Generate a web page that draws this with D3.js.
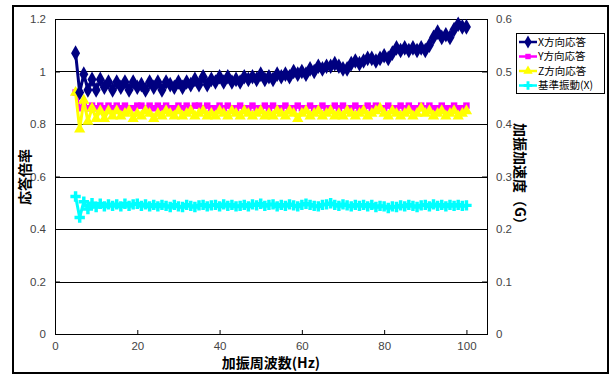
<!DOCTYPE html>
<html>
<head>
<meta charset="utf-8">
<script src="https://cdn.jsdelivr.net/npm/d3@7"></script>
<style>
  body { margin: 0; background: #fff; }
  svg text { font-family: "Liberation Sans", Arial, sans-serif; }
  .jp { font-family: "Noto Sans CJK JP", sans-serif; }
</style>
</head>
<body>
<div id="chart"></div>
<script>
// frequencies (Hz)
var freq = [5,6,7,8,9,10,11,12,13,14,15,16,17,18,19,20,21,22,23,24,25,26,27,28,29,30,
  31,32,33,34,35,36,37,38,39,40,41,42,43,44,45,46,47,48,49,50,51,52,53,54,55,56,57,58,59,60,
  61,62,63,64,65,66,67,68,69,70,71,72,73,74,75,76,77,78,79,80,81,82,83,84,85,86,87,88,89,90,
  91,92,93,94,95,96,97,98,99,100];

// response ratio, X direction (left axis)
var xResp = [1.07,0.92,0.99,0.93,0.97,0.93,0.97,0.94,0.96,0.93,
  0.96,0.94,0.96,0.93,0.96,0.94,0.95,0.93,0.96,0.94,
  0.96,0.93,0.96,0.95,0.94,0.96,0.94,0.96,0.95,0.97,
  0.95,0.98,0.95,0.97,0.96,0.98,0.96,0.98,0.96,0.97,
  0.96,0.98,0.97,0.98,0.97,0.99,0.97,0.98,0.97,0.99,
  0.98,0.99,0.98,1.00,0.99,1.00,0.99,1.01,1.00,1.02,
  1.01,1.02,1.02,1.03,1.02,1.01,1.01,1.03,1.04,1.03,
  1.04,1.05,1.05,1.04,1.05,1.06,1.05,1.07,1.09,1.08,
  1.09,1.08,1.09,1.08,1.09,1.08,1.10,1.13,1.15,1.13,
  1.14,1.13,1.16,1.18,1.17,1.17];

// response ratio, Y direction
var yResp = [0.92,0.86,0.87,0.86,0.87,0.86,0.87,0.86,0.87,0.86,
  0.87,0.86,0.87,0.86,0.86,0.87,0.87,0.86,0.87,0.86,
  0.87,0.86,0.87,0.86,0.86,0.87,0.86,0.87,0.86,0.87,
  0.87,0.86,0.87,0.86,0.86,0.87,0.86,0.87,0.86,0.86,
  0.87,0.86,0.86,0.87,0.86,0.86,0.87,0.86,0.87,0.86,
  0.86,0.87,0.86,0.86,0.87,0.86,0.86,0.87,0.86,0.86,
  0.87,0.86,0.86,0.87,0.86,0.87,0.86,0.86,0.87,0.86,
  0.86,0.87,0.86,0.87,0.86,0.86,0.87,0.86,0.86,0.87,
  0.86,0.87,0.86,0.86,0.87,0.86,0.87,0.86,0.86,0.87,
  0.86,0.86,0.87,0.86,0.86,0.87];

// response ratio, Z direction
var zResp = [0.92,0.78,0.89,0.81,0.86,0.82,0.85,0.82,0.85,0.83,
  0.85,0.83,0.84,0.85,0.82,0.84,0.83,0.85,0.84,0.82,
  0.84,0.83,0.85,0.84,0.83,0.85,0.83,0.84,0.85,0.83,
  0.84,0.85,0.83,0.84,0.83,0.85,0.84,0.83,0.85,0.84,
  0.83,0.85,0.84,0.83,0.84,0.85,0.83,0.84,0.83,0.85,
  0.84,0.83,0.85,0.84,0.82,0.84,0.85,0.83,0.84,0.85,
  0.83,0.84,0.85,0.83,0.84,0.83,0.85,0.84,0.83,0.84,
  0.85,0.83,0.84,0.85,0.86,0.84,0.83,0.85,0.84,0.83,
  0.84,0.85,0.83,0.84,0.86,0.84,0.85,0.83,0.84,0.85,
  0.83,0.84,0.85,0.83,0.84,0.85];

// reference excitation (G, right axis)
var baseAcc = [0.262,0.222,0.252,0.238,0.249,0.242,0.248,0.243,0.247,0.244,
  0.247,0.243,0.248,0.244,0.247,0.248,0.244,0.247,0.243,0.246,
  0.243,0.246,0.244,0.242,0.246,0.243,0.242,0.246,0.244,0.242,
  0.245,0.246,0.243,0.245,0.246,0.243,0.247,0.244,0.246,0.243,
  0.244,0.246,0.243,0.247,0.245,0.248,0.244,0.246,0.247,0.243,
  0.246,0.244,0.247,0.245,0.243,0.246,0.248,0.246,0.244,0.243,
  0.246,0.247,0.249,0.246,0.244,0.247,0.245,0.243,0.246,0.244,
  0.246,0.243,0.246,0.242,0.244,0.243,0.240,0.243,0.242,0.245,
  0.243,0.246,0.244,0.242,0.245,0.246,0.243,0.247,0.244,0.246,
  0.243,0.246,0.244,0.246,0.244,0.245];

var seriesNames = ["X方向応答", "Y方向応答", "Z方向応答", "基準振動(X)"];
var xTicks = [0, 20, 40, 60, 80, 100];
var leftTicks = [0, 0.2, 0.4, 0.6, 0.8, 1, 1.2];
var rightTicks = [0, 0.1, 0.2, 0.3, 0.4, 0.5, 0.6];

var width = 611, height = 376;
var margin = {left: 55, top: 19, right: 124, bottom: 42};

var svg = d3.select("#chart").append("svg")
    .attr("width", width)
    .attr("height", height);

// outer frame
svg.append("rect")
    .attr("x", 13).attr("y", 6)
    .attr("width", 595).attr("height", 367)
    .attr("fill", "#fff")
    .attr("stroke", "#000")
    .attr("stroke-width", 2);

var x = d3.scaleLinear().domain([0, 105]).range([margin.left, width - margin.right]);
var yL = d3.scaleLinear().domain([0, 1.2]).range([height - margin.bottom, margin.top]);
var yR = d3.scaleLinear().domain([0, 0.6]).range([height - margin.bottom, margin.top]);

// gridlines
svg.append("g").selectAll("line")
    .data(leftTicks.slice(1, -1))
    .enter().append("line")
      .attr("x1", x(0)).attr("x2", x(105))
      .attr("y1", function(d){ return Math.round(yL(d)) + 0.5; })
      .attr("y2", function(d){ return Math.round(yL(d)) + 0.5; })
      .attr("stroke", "#000")
      .attr("stroke-width", 1.2);

// plot frame
svg.append("rect")
    .attr("x", x(0) + 0.5).attr("y", yL(1.2) + 0.5)
    .attr("width", x(105) - x(0)).attr("height", yL(0) - yL(1.2))
    .attr("fill", "none")
    .attr("stroke", "#000")
    .attr("stroke-width", 1);

var xAxis = d3.axisBottom(x).tickValues(xTicks).tickSizeInner(-4).tickSizeOuter(0).tickPadding(8);
var leftAxis = d3.axisLeft(yL).tickValues(leftTicks).tickSizeInner(-5).tickSizeOuter(0).tickPadding(9)
    .tickFormat(function(d){ return String(+d.toFixed(1)); });
var rightAxis = d3.axisRight(yR).tickValues(rightTicks).tickSizeInner(-5).tickSizeOuter(0).tickPadding(9)
    .tickFormat(function(d){ return String(+d.toFixed(1)); });

function styleAxis(g) {
  g.select(".domain").remove();
  g.selectAll("line").attr("stroke", "#000");
  g.selectAll("text").attr("fill", "#444").attr("font-size", 11.5)
    .style("font-family", "'Liberation Sans', Arial, sans-serif");
}

svg.append("g").attr("transform", "translate(0," + yL(0) + ")").call(xAxis).call(styleAxis);
svg.append("g").attr("transform", "translate(" + x(0) + ",0)").call(leftAxis).call(styleAxis);
svg.append("g").attr("transform", "translate(" + x(105) + ",0)").call(rightAxis).call(styleAxis);

// series
var series = [
  {name: seriesNames[0], vals: xResp, scale: yL, color: "#000080", sym: d3.symbolDiamond, size: 70},
  {name: seriesNames[1], vals: yResp, scale: yL, color: "#ff00ff", sym: d3.symbolSquare, size: 42},
  {name: seriesNames[2], vals: zResp, scale: yL, color: "#ffff00", sym: d3.symbolTriangle, size: 55},
  {name: seriesNames[3], vals: baseAcc, scale: yR, color: "#00ffff", sym: d3.symbolCross, size: 60}
];

// draw back to front so X sits on top like the reference
[3, 1, 2, 0].forEach(function(k) {
  var s = series[k];
  var line = d3.line()
      .x(function(d, i){ return x(freq[i]); })
      .y(function(d){ return s.scale(d); });
  svg.append("path")
      .datum(s.vals)
      .attr("d", line)
      .attr("fill", "none")
      .attr("stroke", s.color)
      .attr("stroke-width", 3);
  svg.append("g").selectAll("path")
      .data(s.vals)
      .enter().append("path")
        .attr("d", d3.symbol().type(s.sym).size(s.size))
        .attr("transform", function(d, i){ return "translate(" + x(freq[i]) + "," + s.scale(d) + ")"; })
        .attr("fill", s.color);
});

// axis titles
svg.append("text")
    .attr("class", "jp")
    .attr("transform", "translate(30,177) rotate(-90)")
    .attr("text-anchor", "middle")
    .attr("font-size", 14)
    .attr("font-weight", "bold")
    .text("応答倍率");

svg.append("text")
    .attr("class", "jp")
    .attr("transform", "translate(515,177) rotate(90)")
    .attr("text-anchor", "middle")
    .attr("font-size", 14)
    .attr("font-weight", "bold")
    .text("加振加速度（G）");

svg.append("text")
    .attr("class", "jp")
    .attr("x", 271).attr("y", 368)
    .attr("text-anchor", "middle")
    .attr("font-size", 14)
    .attr("font-weight", "bold")
    .text("加振周波数(Hz)");

// legend
var legend = svg.append("g").attr("transform", "translate(516,33)");
legend.append("rect")
    .attr("x", 0.5).attr("y", 0.5)
    .attr("width", 88).attr("height", 60)
    .attr("fill", "#fff")
    .attr("stroke", "#000");

var item = legend.selectAll("g.item")
    .data(series)
    .enter().append("g")
      .attr("class", "item")
      .attr("transform", function(d, i){ return "translate(0," + (9 + i * 14.5) + ")"; });

item.append("line")
    .attr("x1", 3).attr("x2", 21)
    .attr("stroke", function(d){ return d.color; })
    .attr("stroke-width", 2.5);
item.append("path")
    .attr("d", function(d){ return d3.symbol().type(d.sym).size(d.size * 0.7)(); })
    .attr("transform", "translate(12,0)")
    .attr("fill", function(d){ return d.color; });
item.append("text")
    .attr("class", "jp")
    .attr("x", 22).attr("y", 0)
    .attr("dy", "0.36em")
    .attr("font-size", 10.5)
    .attr("fill", "#000")
    .text(function(d){ return d.name; });
</script>
</body>
</html>
